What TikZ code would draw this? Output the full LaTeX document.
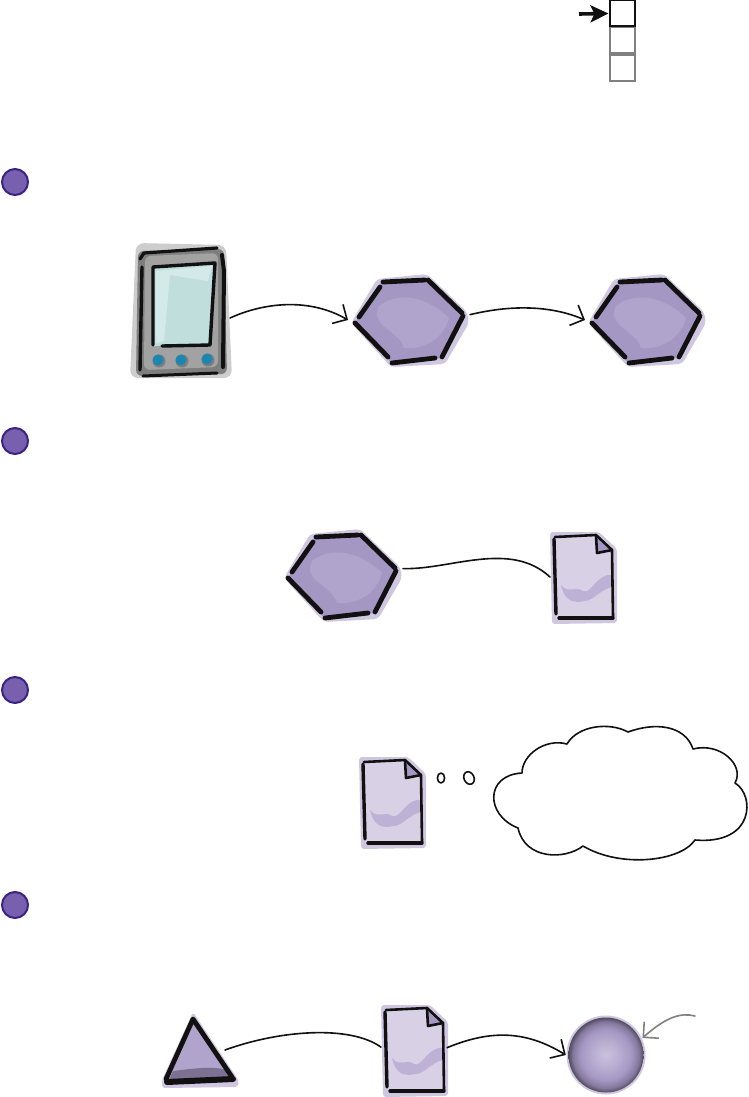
\documentclass[tikz,border=0pt]{standalone}
\usetikzlibrary{arrows.meta,calc}
\definecolor{ink}{HTML}{111111}
\definecolor{hexfill}{HTML}{A597C3}
\definecolor{hexlight}{HTML}{B0A4CC}
\definecolor{halo}{HTML}{CFC6DF}
\definecolor{pagefill}{HTML}{D8D1E6}
\definecolor{pageshade}{HTML}{BDB2D6}
\definecolor{badgefill}{HTML}{7860AE}
\definecolor{badgeline}{HTML}{3A2385}
\definecolor{devgray}{HTML}{A2A2A2}
\definecolor{devdark}{HTML}{7E7E7E}
\definecolor{devhalo}{HTML}{CDCDCD}
\definecolor{screenfill}{HTML}{BFDEDC}
\definecolor{screenlight}{HTML}{D3EAE8}
\definecolor{btn}{HTML}{1C86B0}
\definecolor{stackgray}{HTML}{808080}
\pgfdeclareradialshading{ballshade}{\pgfpoint{0bp}{0bp}}{%
  color(0bp)=(white!25!hexlight!90!white);
  color(9bp)=(hexlight!90!white);
  color(17bp)=(hexfill);
  color(22bp)=(hexfill!80!black);
  color(25bp)=(hexfill!50!black);
  color(50bp)=(hexfill!50!black)}
\tikzset{
  anchorbox/.style={inner sep=0pt,outer sep=0pt,minimum width=#1},
  anchorbox/.default=10pt,
  badge/.style={circle,draw=badgeline,line width=2pt,fill=badgefill,minimum size=26pt,inner sep=0pt},
  stackcell/.style={draw=stackgray,line width=2pt,fill=white,minimum width=25pt,minimum height=26pt,inner sep=0pt},
  inkline/.style={draw=ink,line width=4.8pt,line cap=round,line join=round},
  thinink/.style={draw=ink,line width=2.6pt,line cap=round,line join=round},
  wire/.style={draw=ink,line width=1.6pt,line cap=round},
  barb/.style={-{Straight Barb[length=11pt,width=22pt,line width=1.6pt]}},
  cloudline/.style={draw=ink,line width=1.6pt,fill=white,line join=round},
  pics/hexshape/.style={code={
    \fill[halo,rounded corners=4pt] (-58,3) -- (-32,-41) -- (18,-46) -- (58,-8) -- (60,3) -- (36,44) -- (-18,47) -- cycle;
    \fill[hexfill] (-53,1) -- (-28,-37) -- (16,-40) -- (54,-6) -- (33,38) -- (-18,43) -- cycle;
    \fill[hexlight] (-30,-14) .. controls (-10,-30) and (20,-22) .. (40,-2) .. controls (36,14) and (20,30) .. (-5,28) .. controls (-10,10) and (-40,6) .. (-30,-14) -- cycle;
    \draw[inkline] (-26,-38) -- (16,-40);
    \draw[inkline] (19,-40) -- (53,-7);
    \draw[inkline] (54,-4) -- (33,37);
    \draw[inkline] (26,38) -- (-17,43);
    \draw[inkline] (-21,37) -- (-54,3);
    \draw[inkline] (-50,-3) -- (-29,-33);
  }},
  pics/pageshape/.style={code={
    \fill[halo,rounded corners=3pt] (-33,-45) -- (16,-45) -- (34,-28) -- (34,46) -- (-31,47) -- cycle;
    \fill[pagefill] (-29,-41) -- (14,-41) -- (29,-27) -- (29,40) -- (-27,40) -- cycle;
    \fill[pageshade] (-22,8) .. controls (-14,18) and (-8,8) .. (0,14) .. controls (8,18) and (14,-4) .. (29,-2) -- (29,10) .. controls (18,12) and (10,24) .. (2,24) .. controls (-8,26) and (-18,26) .. (-22,8) -- cycle;
    \fill[hexfill] (13,-40) -- (29,-27) -- (14,-24) -- cycle;
    \draw[thinink] (-28,-40) -- (13,-42) -- (29,-27) -- (30,40);
    \draw[thinink] (13,-41) -- (14,-24) -- (29,-27);
    \draw[thinink,line width=3.4pt] (-29,-38) -- (-27,37);
    \draw[thinink,line width=3.4pt] (-24,41) -- (30,41);
  }},
}
\begin{document}
\begin{tikzpicture}[x=1pt,y=-1pt]
\useasboundingbox (0,0) rectangle (749,1097);
% register stack
\node[stackcell] (cellB) at (622,40.5) {};
\node[stackcell] (cellC) at (622,68) {};
\node[stackcell,draw=ink] (cellA) at (622,13.5) {};
\coordinate (stackstart) at (579,14);
\draw[draw=ink,line width=3.6pt,-{Stealth[length=18pt,width=17pt,inset=4pt]}] (stackstart) -- (cellA.west);
% numbered badges
\node[badge] (badgeA) at (15,182) {};
\node[badge] (badgeB) at (15,441) {};
\node[badge] (badgeC) at (15,690) {};
\node[badge] (badgeD) at (15,905) {};
% device
\node[anchorbox=100pt,minimum height=135pt] (device) at (180,311) {};
\begin{scope}[shift={(device.center)}]
  \fill[devhalo,rounded corners=8pt] (-44,-68) -- (46,-66) -- (52,67) -- (-50,67) -- cycle;
  \fill[devdark,rounded corners=6pt] (-42,-60) -- (44,-62) -- (47,63) -- (-44,65) -- cycle;
  \fill[devgray,rounded corners=6pt] (-35,-55) -- (38,-58) -- (38,56) -- (-36,59) -- cycle;
  \fill[screenfill] (-27,-44) -- (35,-48) -- (30,34) -- (-26,35) -- cycle;
  \fill[screenlight] (-24,-40) -- (32,-45) -- (28,-30) -- (-10,-36) -- (-16,30) -- (-24,32) -- cycle;
  \draw[thinink,line width=3.4pt] (-27,34) -- (-27,-44) -- (35,-48) -- (30,34) -- (-18,35);
  \draw[thinink,line width=3.2pt] (-40,-52) -- (-36,-58) -- (37,-63);
  \draw[thinink,line width=4pt] (42,-56) -- (44,-40) -- (43,56);
  \draw[thinink,line width=3.4pt] (-38,-44) -- (-40,59);
  \draw[thinink,line width=3pt] (-37,65) -- (37,62);
  \fill[devdark] (-21,50) circle (6.5pt) (2,50) circle (6.5pt) (28,49) circle (6.5pt);
  \fill[btn] (-22,49) circle (5.5pt);
  \fill[btn] (1,49) circle (5.5pt);
  \fill[btn] (27,48) circle (5.5pt);
\end{scope}
% hexagons
\node[anchorbox=122pt,minimum height=90pt] (hexA) at (409,320) {};
\pic at (hexA.center) {hexshape};
\node[anchorbox=122pt,minimum height=90pt] (hexB) at (646,320) {};
\pic at (hexB.center) {hexshape};
\node[anchorbox=122pt,minimum height=90pt] (hexC) at (342,575) {};
\pic at (hexC.center) {hexshape};
% pages
\node[anchorbox=66pt,minimum height=90pt] (pageA) at (583,577) {};
\pic at (pageA.center) {pageshape};
\node[anchorbox=66pt,minimum height=90pt] (pageB) at (392,802) {};
\pic at (pageB.center) {pageshape};
\node[anchorbox=66pt,minimum height=90pt] (pageC) at (414,1050) {};
\pic at (pageC.center) {pageshape};
% triangle
\node[anchorbox=50pt,minimum height=76pt] (tri) at (200,1050) {};
\begin{scope}[shift={(tri.center)}]
  \fill[halo,rounded corners=3pt] (-7,-38) -- (39,31) -- (38,37) -- (-38,38) -- (-38,30) -- cycle;
  \fill[hexlight] (-7,-31) -- (33,29) -- (-33,31) -- cycle;
  \fill[hexfill!75!black] (-27,21) .. controls (-10,19) and (15,15) .. (29,21) -- (34,30) -- (-32,32) -- cycle;
  \draw[inkline] (-34,29) -- (-7,-31) -- (32,27);
  \draw[inkline,line width=6pt] (-33,32) -- (33,29);
\end{scope}
% ball
\node[circle,minimum size=80pt,inner sep=0pt] (ball) at (606,1055) {};
\fill[halo] (ball.center) circle (39.5pt);
\shade[shading=ballshade] (ball.center) circle (37.5pt);
% thought bubbles
\node[anchorbox=0pt,minimum height=0pt] (bubA) at (441,778) {};
\node[anchorbox=0pt,minimum height=0pt] (bubB) at (469,778) {};
\draw[cloudline] (bubA.center) ellipse (3.6pt and 5pt);
\draw[cloudline,rotate around={25:(bubB.center)}] (bubB.center) ellipse (5pt and 6.5pt);
% cloud
\coordinate (cloudstart) at (518,828);
\draw[cloudline] (cloudstart)
  .. controls (485,815) and (485,775) .. (522,773)
  .. controls (522,755) and (545,738) .. (567,744)
  .. controls (578,725) and (610,722) .. (628,732)
  .. controls (655,722) and (685,725) .. (693,749)
  .. controls (720,742) and (745,765) .. (735,783)
  .. controls (755,795) and (755,845) .. (695,840)
  .. controls (680,862) and (620,868) .. (583,846)
  .. controls (565,860) and (525,860) .. (518,828) -- cycle;
% connectors
\draw[wire,barb] (device.-8) .. controls (265,302) and (310,298) .. (hexA.west);
\draw[wire,barb] (hexA.5) .. controls (510,305) and (550,305) .. (hexB.west);
\draw[wire] (hexC.6) .. controls (450,570) and (510,540) .. (pageA.west);
\draw[wire] (tri.east) .. controls (280,1030) and (350,1025) .. (pageC.175);
\draw[wire,barb] (pageC.4) .. controls (490,1030) and (525,1030) .. (ball.west);
\coordinate (noteend) at (695,1016);
\draw[draw=stackgray,line width=1.6pt,line cap=round,-{Straight Barb[length=11pt,width=22pt,line width=1.6pt]}] (noteend) .. controls (680,1012) and (665,1018) .. (ball.25);
\end{tikzpicture}
\end{document}
